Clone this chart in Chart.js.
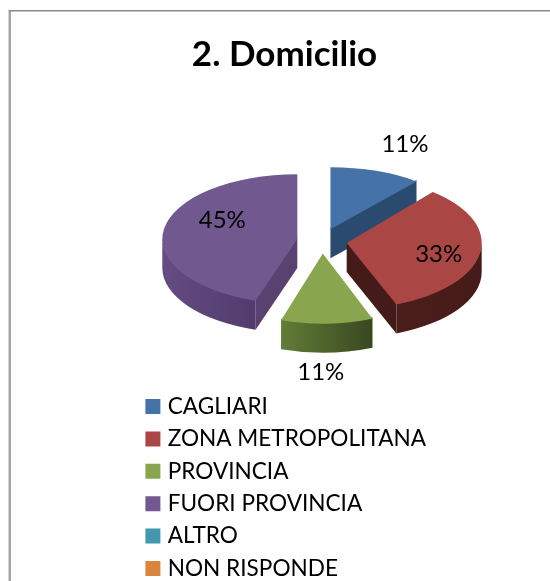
<!DOCTYPE html>
<html>
<head>
<meta charset="utf-8">
<title>2. Domicilio</title>
<script src="https://cdn.jsdelivr.net/npm/chart.js@4"></script>
<style>
  html, body { margin: 0; padding: 0; background: #fff; overflow: hidden; }
  canvas { display: block; }
</style>
</head>
<body>
<canvas id="domicilio" width="550" height="581"></canvas>
<script>
const titleText = '2. Domicilio';
const categories = ['CAGLIARI', 'ZONA METROPOLITANA', 'PROVINCIA', 'FUORI PROVINCIA', 'ALTRO', 'NON RISPONDE'];
const percentages = [11, 33, 11, 45, 0, 0];

const topColors = ['#4573a7', '#aa4643', '#89a54e', '#71588f', '#4198af', '#db843d'];
const rimFrom = ['#2b4a70', '#4a1e1b', '#617c37', '#654c82', '#2a6475', '#95592a'];
const rimTo = ['#2b4a70', '#451b19', '#394820', '#513b6c', '#2a6475', '#95592a'];
const cutColors = ['#2b4a70', '#451b19', '#465a27', '#5a4270', '#2a6475', '#95592a'];

// centro della torta schiacciata
const CX = 322;
const CY = 241;
const EXPLODE = 25;
const EXPLODE_SQUASH = 0.5;
const RADIUS = 135;
const DEPTH = 29;
const OVERLAP = 1.5;  // le pareti entrano sotto la faccia superiore

// finta prospettiva: le fette davanti sono un po' più alte di quelle dietro
const sliceSquash = [0.46, 0.49, 0.52, 0.48, 0.48, 0.48];

// posizione delle etichette rispetto al vertice di ogni fetta
const labelShift = [[74.5, -85], [92, 11], [-2, 118.5], [-75, -19]];

function apexOf(arc) {
  const mid = (arc.startAngle + arc.endAngle) / 2;
  return {
    x: CX + Math.cos(mid) * EXPLODE,
    y: CY + Math.sin(mid) * EXPLODE * EXPLODE_SQUASH
  };
}

function drawCut(ctx, apex, angle, k, color) {
  const ex = apex.x + Math.cos(angle) * RADIUS;
  const ey = apex.y + Math.sin(angle) * RADIUS * k;
  ctx.fillStyle = color;
  ctx.beginPath();
  ctx.moveTo(apex.x, apex.y - OVERLAP);
  ctx.lineTo(ex, ey - OVERLAP);
  ctx.lineTo(ex, ey + DEPTH);
  ctx.lineTo(apex.x, apex.y + DEPTH);
  ctx.closePath();
  ctx.fill();
}

function drawWalls(ctx, arc, i) {
  const apex = apexOf(arc);
  const k = sliceSquash[i];
  const start = arc.startAngle;
  const end = arc.endAngle;

  // pareti di taglio: solo quelle rivolte verso chi guarda
  if (Math.sin(start - Math.PI / 2) > 0.01) drawCut(ctx, apex, start, k, cutColors[i]);
  if (Math.sin(end + Math.PI / 2) > 0.01) drawCut(ctx, apex, end, k, cutColors[i]);

  // bordo esterno: solo la parte nella metà inferiore dell'ellisse
  const from = Math.max(start, 0);
  const to = Math.min(end, Math.PI);
  if (to <= from) return;
  const x1 = apex.x + Math.cos(from) * RADIUS;
  const x2 = apex.x + Math.cos(to) * RADIUS;
  const grad = ctx.createLinearGradient(Math.min(x1, x2), 0, Math.max(x1, x2), 0);
  grad.addColorStop(0, rimFrom[i]);
  grad.addColorStop(1, rimTo[i]);
  ctx.fillStyle = grad;
  ctx.beginPath();
  ctx.ellipse(apex.x, apex.y - OVERLAP, RADIUS, RADIUS * k, 0, from, to);
  ctx.ellipse(apex.x, apex.y + DEPTH, RADIUS, RADIUS * k, 0, to, from, true);
  ctx.closePath();
  ctx.fill();
}

const framePlugin = {
  id: 'frame',
  beforeDraw(chart) {
    const ctx = chart.ctx;
    ctx.save();
    ctx.fillStyle = '#a6a6a6';
    ctx.fillRect(8.5, 10, 2.5, 571);
    ctx.fillStyle = '#8a8a8a';
    ctx.fillRect(9, 10, 541, 1.5);
    ctx.restore();
  }
};

const legendPlugin = {
  id: 'legendPlace',
  afterLayout(chart) {
    const legend = chart.legend;
    legend.left = 139.6;
    legend.right = 500;
    legend.top = 385.4;
    legend.bottom = 700;
  }
};

const pie3dPlugin = {
  id: 'pie3d',
  afterDatasetsUpdate(chart) {
    // ogni faccia superiore resta un arco di Chart.js, spostato sul suo vertice e schiacciato
    chart.getDatasetMeta(0).data.forEach((arc, i) => {
      arc.draw = function (ctx, area) {
        const apex = apexOf(arc);
        ctx.save();
        ctx.translate(apex.x, apex.y);
        ctx.scale(1, sliceSquash[i]);
        ctx.translate(-arc.x, -arc.y);
        Chart.ArcElement.prototype.draw.call(arc, ctx, area);
        ctx.restore();
      };
    });
  },
  beforeDatasetsDraw(chart) {
    const ctx = chart.ctx;
    const arcs = chart.getDatasetMeta(0).data;
    const order = arcs
      .map((arc, i) => ({ arc, i }))
      .filter(o => percentages[o.i] > 0)
      .sort((a, b) => apexOf(a.arc).y - apexOf(b.arc).y);

    ctx.save();
    order.forEach(o => drawWalls(ctx, o.arc, o.i));
    ctx.restore();
  },
  afterDatasetsDraw(chart) {
    const ctx = chart.ctx;
    ctx.save();
    ctx.fillStyle = '#000';
    ctx.font = '24px Lato';
    ctx.textAlign = 'center';
    ctx.textBaseline = 'middle';
    chart.getDatasetMeta(0).data.forEach((arc, i) => {
      if (!percentages[i]) return;
      const apex = apexOf(arc);
      ctx.fillText(percentages[i] + '%', apex.x + labelShift[i][0], apex.y + labelShift[i][1]);
    });
    ctx.restore();
  }
};

new Chart(document.getElementById('domicilio'), {
  type: 'pie',
  data: {
    labels: categories,
    datasets: [{
      data: percentages,
      backgroundColor: topColors,
      borderWidth: 0,
      radius: RADIUS,
      clip: false
    }]
  },
  options: {
    responsive: false,
    animation: false,
    events: [],
    layout: {
      padding: { left: 19 }
    },
    plugins: {
      tooltip: { enabled: false },
      title: {
        display: true,
        text: titleText,
        color: '#000',
        font: { family: 'Lato', size: 35, weight: 'bold' },
        padding: { top: 34, bottom: 20 }
      },
      legend: {
        position: 'left',
        align: 'start',
        labels: {
          color: '#000',
          font: { family: 'Lato', size: 22.6 },
          boxWidth: 7,
          boxHeight: 7,
          padding: 9.8,
          generateLabels: () => categories.map((name, i) => ({
            text: name,
            fillStyle: topColors[i],
            strokeStyle: topColors[i],
            lineWidth: 8,
            hidden: false,
            index: i
          }))
        }
      }
    }
  },
  plugins: [framePlugin, legendPlugin, pie3dPlugin]
});
</script>
</body>
</html>
